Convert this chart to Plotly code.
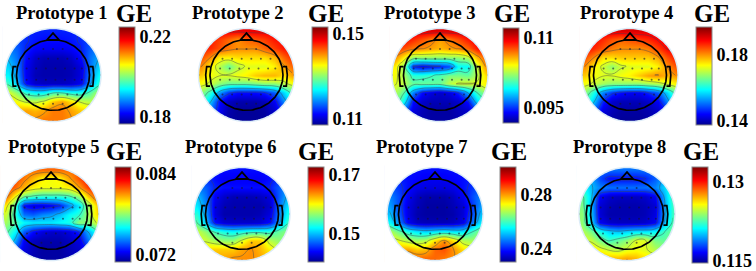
import numpy as np
import plotly.graph_objects as go

W, H = 756, 271
SERIF = "Liberation Serif"

titles = ["Prototype 1", "Prototype 2", "Prototype 3", "Prorotype 4",
          "Prototype 5", "Prototype 6", "Prototype 7", "Prorotype 8"]
tick_values = [[0.18, 0.22], [0.11, 0.15], [0.095, 0.11], [0.14, 0.18],
               [0.072, 0.084], [0.15, 0.17], [0.24, 0.28], [0.115, 0.13]]
tick_labels = [["0.18", "0.22"], ["0.11", "0.15"], ["0.095", "0.11"], ["0.14", "0.18"],
               ["0.072", "0.084"], ["0.15", "0.17"], ["0.24", "0.28"], ["0.115", "0.13"]]
scale_low = [0.1765, 0.1072, 0.0918, 0.1376, 0.07096, 0.1405, 0.2304, 0.1146]
scale_high = [0.225, 0.1533, 0.1121, 0.197, 0.08504, 0.1727, 0.3007, 0.1328]

# Scalp values per map, top row first, as percent of each colour scale
map1 = [[14]*11,
        [20,18,15,13,12,12,12,13,15,18,20],
        [24,20,14,11,10,10,10,11,14,20,24],
        [28,22,12,6,4,4,4,6,12,22,28],
        [32,24,10,5,3,3,3,4,8,22,32],
        [36,26,10,4,3,3,3,4,8,24,36],
        [42,30,12,6,5,5,5,6,10,26,40],
        [58,50,40,36,36,42,42,38,38,44,54],
        [64,60,56,55,58,66,70,64,56,54,58],
        [68,68,70,68,70,74,74,70,66,64,64],
        [72,72,72,72,74,74,74,72,68,66,66]]
map2 = [[88]*11,
        [86,84,80,76,72,76,78,80,84,86,88],
        [84,82,78,74,72,72,72,76,80,84,86],
        [78,72,62,62,64,64,64,64,68,76,82],
        [72,62,54,46,54,58,58,58,62,70,76],
        [66,60,58,58,60,62,66,68,68,64,70],
        [60,56,50,46,46,46,48,50,50,54,60],
        [50,40,26,16,12,12,12,14,20,32,44],
        [44,30,12,5,3,3,3,4,10,24,36],
        [34,22,10,3,1,1,1,2,6,16,28],
        [24,14,6,2,1,1,1,1,4,10,20]]
map3 = [[90]*11,
        [88,86,82,78,74,70,74,78,84,88,90],
        [82,78,74,72,70,68,70,72,76,84,88],
        [72,62,50,50,50,50,50,50,54,68,78],
        [62,50,14,10,12,14,18,36,36,56,72],
        [60,52,40,40,42,44,48,48,46,54,64],
        [58,54,46,46,46,46,54,58,58,58,62],
        [54,44,24,12,8,6,8,14,28,42,52],
        [50,36,12,6,4,4,4,6,12,32,44],
        [36,20,8,4,2,2,2,4,6,16,30],
        [24,14,6,3,2,2,2,3,5,10,20]]
map4 = [[90]*11,
        [88,86,82,78,76,78,80,82,86,88,90],
        [86,82,78,74,72,72,72,74,80,86,88],
        [78,72,64,64,66,66,66,66,70,78,84],
        [72,62,56,50,56,58,58,58,62,72,78],
        [66,60,58,58,60,62,66,70,72,68,72],
        [60,56,52,50,50,50,50,52,54,58,62],
        [50,38,24,16,12,10,10,14,20,32,46],
        [44,30,14,6,4,4,4,6,10,24,38],
        [32,20,8,4,2,2,2,3,6,14,28],
        [22,12,6,2,1,1,1,2,4,8,18]]
map5 = [[76]*11,
        [82,80,74,68,62,60,62,70,78,86,90],
        [82,76,68,62,60,60,60,62,70,80,88],
        [76,60,46,42,40,40,40,42,50,66,78],
        [62,44,12,8,8,10,14,24,34,50,66],
        [56,40,22,20,24,26,30,36,40,52,64],
        [52,44,36,34,34,34,36,38,50,48,58],
        [46,36,20,12,8,6,6,8,14,28,40],
        [42,28,10,5,3,3,3,5,8,22,34],
        [32,18,8,4,2,2,2,4,6,14,26],
        [22,12,6,3,2,2,2,3,4,8,18]]
map6 = [[12]*11,
        [18,16,12,10,10,10,10,10,12,16,20],
        [24,20,14,12,12,12,12,12,14,20,26],
        [30,22,10,6,4,4,4,5,8,20,30],
        [34,24,8,4,3,3,3,3,6,22,34],
        [40,26,8,3,3,3,3,4,8,24,38],
        [44,30,12,7,6,6,6,7,12,26,42],
        [56,50,42,38,36,38,40,40,40,46,50],
        [58,56,52,50,50,58,66,66,54,50,52],
        [62,64,66,66,66,70,72,68,62,56,54],
        [70,70,70,70,72,72,72,70,66,62,58]]
map7 = [[12]*11,
        [16,14,12,11,10,10,10,11,12,14,16],
        [20,16,12,9,8,8,8,9,12,16,20],
        [24,18,10,5,3,3,3,5,10,18,24],
        [26,18,8,4,2,2,2,4,7,16,26],
        [30,20,8,3,2,2,2,3,7,18,30],
        [36,24,10,5,4,4,4,5,9,22,34],
        [54,46,38,34,32,34,36,34,34,42,50],
        [60,58,54,52,54,64,72,64,54,52,54],
        [68,70,70,66,68,76,78,72,64,60,58],
        [74,74,76,76,76,76,74,72,68,64,60]]
map8 = [[22]*11,
        [34,28,18,12,12,12,12,14,20,28,36],
        [40,30,24,22,22,22,22,22,24,32,42],
        [46,32,10,6,5,5,5,6,10,28,44],
        [48,30,7,4,3,3,3,4,7,26,42],
        [50,32,7,3,3,3,3,4,8,26,42],
        [50,34,10,6,5,5,5,6,10,28,44],
        [54,48,38,32,30,32,34,34,36,42,48],
        [58,56,48,42,46,50,58,58,48,46,50],
        [62,64,60,56,54,58,60,58,54,50,50],
        [68,70,70,68,68,70,68,64,60,58,54]]
maps = [map1, map2, map3, map4, map5, map6, map7, map8]

electrode_x = [-0.2, 0, 0.2,
               -0.5, -0.3, -0.1, 0.1, 0.3, 0.5,
               -0.55, -0.35, -0.15, 0.05, 0.25, 0.45, 0.6,
               -0.55, -0.35, -0.15, 0.05, 0.25, 0.45, 0.6,
               -0.5, -0.3, -0.1, 0.1, 0.3, 0.5,
               -0.2, 0, 0.2,
               0, -1, 1]
electrode_y = [0.56, 0.56, 0.56,
               0.35, 0.35, 0.35, 0.35, 0.35, 0.35,
               0.14, 0.14, 0.14, 0.14, 0.14, 0.14, 0.14,
               -0.1, -0.1, -0.1, -0.1, -0.1, -0.1, -0.1,
               -0.42, -0.42, -0.42, -0.42, -0.42, -0.42,
               -0.62, -0.62, -0.62,
               -1, 0, 0]

JET = [[0, "rgb(0,0,143)"], [0.11, "rgb(0,0,255)"], [0.36, "rgb(0,255,255)"],
       [0.61, "rgb(255,255,0)"], [0.86, "rgb(255,0,0)"], [1, "rgb(128,0,0)"]]

# Layout in pixels
map_centres = [(53, 75), (246.5, 75), (440, 75), (630, 75), (51, 214), (242, 214), (435, 214), (627, 214)]
RX, RY = 48, 46.5
PAD = 1.06  # axes reach a little past the disc
MASK = 2  # the white mask overshoots the axes so no clipped edge can show
bars = [(119, 27, 124), (312, 27, 125), (503, 28, 123), (696, 27, 125),
        (115, 167, 262), (308, 167, 262), (500, 167, 262), (692, 167, 263)]
title_pos = [(15, 13), (191, 13), (383, 13), (579, 13), (7, 147), (184, 147), (375, 147), (572, 147)]
ge_pos = [(115, 13), (307, 13), (493, 13), (693, 13), (105, 151), (297, 151), (490, 151), (682, 151)]

px = lambda x: x / W
py = lambda y: 1 - y / H

grid = np.linspace(-0.95, 0.95, 11)  # half-cell bricks then stop inside the axes, under the mask
theta = np.linspace(0, 2 * np.pi, 181)
HEAD = 0.76

hx = list(HEAD * np.cos(theta)) + [None, -0.13, 0, 0.13, -0.13, None]
hy = list(HEAD * np.sin(theta)) + [None, 0.75, 0.9, 0.75, 0.75, None]
for s in (-1, 1):
    hx += [s*0.76, s*0.83, s*0.85, s*0.83, s*0.76, None]
    hy += [0.18, 0.18, 0, -0.24, -0.24, None]

fig = go.Figure()
layout = dict(width=W, height=H, margin=dict(l=0, r=0, t=0, b=0, autoexpand=False),
              paper_bgcolor="white", plot_bgcolor="white", showlegend=False)
shapes, annotations = [], []

for i, values in enumerate(maps):
    ax = "" if i == 0 else str(i + 1)
    lo, hi = scale_low[i], scale_high[i]
    z = lo + (hi - lo) * np.array(values, dtype=float) / 100
    cx, cy = map_centres[i]
    bx, bt, bb = bars[i]
    layout[f"xaxis{ax}"] = dict(domain=[px(cx - RX * PAD), px(cx + RX * PAD)], range=[-PAD, PAD],
                                visible=False, fixedrange=True)
    layout[f"yaxis{ax}"] = dict(domain=[py(cy + RY * PAD), py(cy - RY * PAD)], range=[-PAD, PAD],
                                visible=False, fixedrange=True)
    fig.add_trace(go.Heatmap(
        x=grid, y=grid[::-1], z=z, zmin=lo, zmax=hi, zsmooth="best", colorscale=JET,
        xaxis=f"x{ax}", yaxis=f"y{ax}", hoverinfo="skip",
        colorbar=dict(x=px(bx), xanchor="left", xpad=0, y=py(bt), yanchor="top", ypad=0,
                      lenmode="pixels", len=bb - bt, thicknessmode="pixels", thickness=16,
                      outlinecolor="#8a8a8a", outlinewidth=1, ticks="", ticklen=2,
                      ticklabeloverflow="allow",
                      tickvals=tick_values[i], ticktext=tick_labels[i],
                      tickfont=dict(family=SERIF, size=18, color="black", weight="bold"))))
    fig.add_trace(go.Contour(
        x=grid, y=grid[::-1], z=z, showscale=False, hoverinfo="skip",
        contours=dict(coloring="none", start=lo + (hi - lo) / 7, end=hi, size=(hi - lo) / 7),
        line=dict(color="rgba(60,70,80,0.45)", width=1, smoothing=1.3),
        xaxis=f"x{ax}", yaxis=f"y{ax}"))
    # white mask outside the scalp disc, and its pale halo
    pts = [(np.cos(t), np.sin(t)) for t in theta[:-1]]
    ring = " ".join(("M" if k == 0 else "L") + f"{a:.4f},{b:.4f}" for k, (a, b) in enumerate(pts))
    square = f"M{-MASK},{-MASK} L{-MASK},{MASK} L{MASK},{MASK} L{MASK},{-MASK} Z "
    shapes.append(dict(type="path", path=square + ring + " Z", fillcolor="white",
                       line=dict(width=0), xref=f"x{ax}", yref=f"y{ax}", layer="above"))
    shapes.append(dict(type="path", path=ring + " Z", fillcolor="rgba(0,0,0,0)",
                       line=dict(color="#dcecf8", width=1.5), xref=f"x{ax}", yref=f"y{ax}", layer="above"))
    fig.add_trace(go.Scatter(x=hx, y=hy, mode="lines", line=dict(color="black", width=1.7),
                             xaxis=f"x{ax}", yaxis=f"y{ax}", hoverinfo="skip", cliponaxis=False))
    fig.add_trace(go.Scatter(x=electrode_x, y=electrode_y, mode="markers",
                             marker=dict(color="rgba(20,20,50,0.6)", size=2),
                             xaxis=f"x{ax}", yaxis=f"y{ax}", hoverinfo="skip", cliponaxis=False))
    annotations.append(dict(text=f"<b>{titles[i]}</b>", x=px(title_pos[i][0]), y=py(title_pos[i][1]),
                            xref="paper", yref="paper", xanchor="left", yanchor="middle", showarrow=False,
                            xshift=-1, font=dict(family=SERIF, size=18.5, color="black")))
    annotations.append(dict(text="<b>GE</b>", x=px(ge_pos[i][0]), y=py(ge_pos[i][1]),
                            xref="paper", yref="paper", xanchor="left", yanchor="middle", showarrow=False,
                            xshift=-1, font=dict(family=SERIF, size=25, color="black")))

fig.update_layout(**layout, shapes=shapes, annotations=annotations)
fig.write_html("out.html", config={"displayModeBar": False},
               post_script="document.body.style.margin='0';document.body.style.overflow='hidden';")
